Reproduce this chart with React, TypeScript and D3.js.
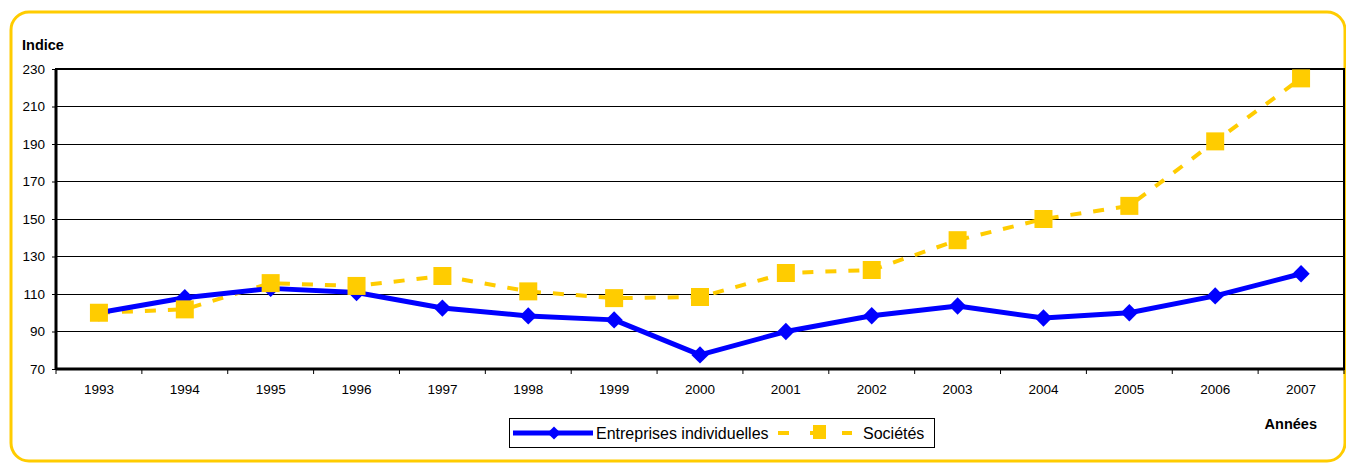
import React, { useEffect, useRef } from "react";
import * as d3 from "d3";

const years = ["1993", "1994", "1995", "1996", "1997", "1998", "1999", "2000", "2001", "2002", "2003", "2004", "2005", "2006", "2007"];
const entreprises = [100, 108, 113, 110.8, 102.5, 98.3, 96.2, 77.5, 90, 98.4, 103.6, 97.2, 100, 109, 120.8];
const societes = [100, 101.8, 115.8, 114.3, 119.6, 111.4, 107.8, 108.4, 121.2, 122.8, 138.7, 150, 157, 191.4, 225];
const yTicks = [70, 90, 110, 130, 150, 170, 190, 210, 230];

const BLUE = "#0000FF";
const GOLD = "#FFCC00";
const FONT = "Liberation Sans, Arial, sans-serif";

const App: React.FC = () => {
  const svgRef = useRef<SVGSVGElement | null>(null);

  useEffect(() => {
    const svg = d3.select(svgRef.current);
    svg.selectAll("*").remove();

    const left = 56, right = 1344, top = 69, bottom = 369;

    // rounded yellow frame
    svg.append("rect")
      .attr("x", 11).attr("y", 12).attr("width", 1334).attr("height", 449)
      .attr("rx", 18).attr("ry", 18)
      .attr("fill", "white").attr("stroke", GOLD).attr("stroke-width", 3);

    const x = d3.scaleBand().domain(years).range([left, right]);
    const y = d3.scaleLinear().domain([70, 230]).range([bottom, top]);
    const cx = (d: string) => x(d)! + x.bandwidth() / 2;

    // gridlines
    svg.append("g")
      .selectAll("line")
      .data(yTicks.slice(1, -1))
      .join("line")
      .attr("x1", left).attr("x2", right)
      .attr("y1", (d) => y(d)).attr("y2", (d) => y(d))
      .attr("stroke", "#000").attr("stroke-width", 1).attr("shape-rendering", "crispEdges");

    // plot frame
    svg.append("rect")
      .attr("x", left).attr("y", top).attr("width", right - left).attr("height", bottom - top)
      .attr("fill", "none").attr("stroke", "#000").attr("stroke-width", 2);
    svg.append("line")
      .attr("x1", left).attr("x2", right).attr("y1", bottom).attr("y2", bottom)
      .attr("stroke", "#000").attr("stroke-width", 3);
    svg.append("line")
      .attr("x1", left).attr("x2", left).attr("y1", top).attr("y2", bottom)
      .attr("stroke", "#000").attr("stroke-width", 3);

    // y axis
    const yAxis = d3.axisLeft(y).tickValues(yTicks).tickSize(4).tickPadding(7);
    const gy = svg.append("g").attr("transform", `translate(${left},0)`).call(yAxis as any);
    gy.select(".domain").remove();
    gy.selectAll("text").attr("font-family", FONT).attr("font-size", 13.5).attr("fill", "#000");

    // x axis ticks at boundaries
    const bounds = years.map((d) => x(d)!).concat([right]);
    svg.append("g")
      .selectAll("line")
      .data(bounds)
      .join("line")
      .attr("x1", (d) => d).attr("x2", (d) => d)
      .attr("y1", bottom).attr("y2", bottom + 5)
      .attr("stroke", "#000").attr("stroke-width", 1);
    svg.append("g")
      .selectAll("text")
      .data(years)
      .join("text")
      .attr("x", (d) => cx(d)).attr("y", 394)
      .attr("text-anchor", "middle")
      .attr("font-family", FONT).attr("font-size", 13.5)
      .text((d) => d);

    // lines
    const line = d3.line<number>().x((_, i) => cx(years[i])).y((d) => y(d));

    svg.append("path")
      .attr("d", line(societes)!)
      .attr("fill", "none").attr("stroke", GOLD).attr("stroke-width", 4)
      .attr("stroke-dasharray", "11,12");
    svg.append("path")
      .attr("d", line(entreprises)!)
      .attr("fill", "none").attr("stroke", BLUE).attr("stroke-width", 5)
      .attr("stroke-linejoin", "round");

    const diamond = d3.symbol().type(d3.symbolDiamond2).size(190);
    svg.append("g")
      .selectAll("path")
      .data(entreprises)
      .join("path")
      .attr("transform", (d, i) => `translate(${cx(years[i])},${y(d)})`)
      .attr("d", diamond()!)
      .attr("fill", BLUE);

    svg.append("g")
      .selectAll("rect")
      .data(societes)
      .join("rect")
      .attr("x", (d, i) => cx(years[i]) - 9)
      .attr("y", (d) => y(d) - 9)
      .attr("width", 18).attr("height", 18)
      .attr("fill", GOLD);

    // titles
    svg.append("text").attr("x", 22).attr("y", 50)
      .attr("font-family", FONT).attr("font-size", 14.5).attr("font-weight", "bold").text("Indice");
    svg.append("text").attr("x", 1317).attr("y", 429).attr("text-anchor", "end")
      .attr("font-family", FONT).attr("font-size", 14.5).attr("font-weight", "bold").text("Années");

    // legend
    const lg = svg.append("g");
    lg.append("rect").attr("x", 509.5).attr("y", 418.5).attr("width", 425).attr("height", 29)
      .attr("fill", "white").attr("stroke", "#000").attr("stroke-width", 1);
    lg.append("line").attr("x1", 513).attr("x2", 593).attr("y1", 433).attr("y2", 433)
      .attr("stroke", BLUE).attr("stroke-width", 5);
    lg.append("path").attr("transform", "translate(554,433)")
      .attr("d", d3.symbol().type(d3.symbolDiamond2).size(110)()!).attr("fill", BLUE);
    lg.append("text").attr("x", 596).attr("y", 439)
      .attr("font-family", FONT).attr("font-size", 16).text("Entreprises individuelles");
    [[778, 789], [810, 815], [842, 852]].forEach(([a, b]) => {
      lg.append("line").attr("x1", a).attr("x2", b).attr("y1", 433).attr("y2", 433)
        .attr("stroke", GOLD).attr("stroke-width", 4);
    });
    lg.append("rect").attr("x", 813).attr("y", 425).attr("width", 13).attr("height", 14).attr("fill", GOLD);
    lg.append("text").attr("x", 863).attr("y", 439)
      .attr("font-family", FONT).attr("font-size", 16).text("Sociétés");
  }, []);

  return (
    <svg
      ref={svgRef}
      width={1346}
      height={463}
      style={{ position: "absolute", left: 0, top: 0, display: "block", background: "white" }}
    />
  );
};

export default App;
